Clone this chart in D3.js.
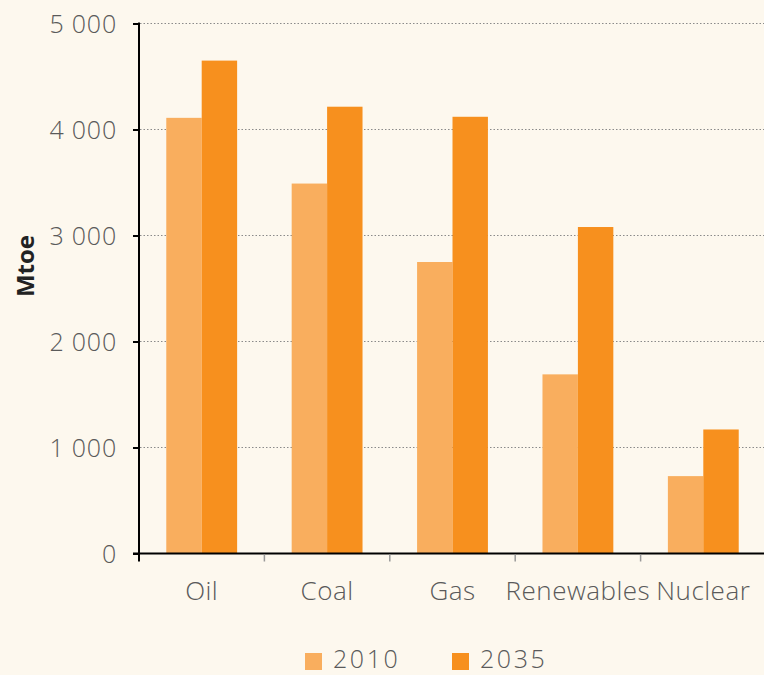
<!DOCTYPE html>
<html>
<head>
<meta charset="utf-8">
<script src="https://cdn.jsdelivr.net/npm/d3@7"></script>
<style>
body { margin:0; background:#fdf8ee; }
svg { display:block; font-family:"Open Sans", "Noto Sans", sans-serif; }
</style>
</head>
<body>
<svg></svg>
<script>
var screen = {width:764, height:675}
var margins = {top:23.5, right:-2, left:139, bottom:121.5}

// data (Mtoe)
var categories = ["Oil", "Coal", "Gas", "Renewables", "Nuclear"]
var years = ["2010", "2035"]
var values2010 = [4110, 3490, 2750, 1690, 730]
var values2035 = [4650, 4215, 4120, 3080, 1170]
var yTicks = [0, 1000, 2000, 3000, 4000, 5000]
var colors = ["#f9ae5e", "#f7901e"]

var svg = d3.select("svg")
    .attr("width", screen.width)
    .attr("height", screen.height)

var bottomY = screen.height - margins.bottom

var x = d3.scaleBand()
    .domain(categories)
    .range([margins.left, screen.width - margins.right])
    .padding(0)

var xInner = d3.scaleBand()
    .domain(years)
    .range([0, x.bandwidth()])
    .paddingInner(0)
    .paddingOuter(0.77)

var y = d3.scaleLinear()
    .domain([0, 5000])
    .range([bottomY, margins.top])

var color = d3.scaleOrdinal().domain(years).range(colors)

var fmt = function(d)
{
    return d3.format(",")(d).replace(",", " ")
}

// gridlines
svg.append("g")
    .selectAll("line")
    .data(yTicks.filter(function(d){ return d > 0 }))
    .enter()
    .append("line")
    .attr("x1", margins.left + 1)
    .attr("x2", screen.width)
    .attr("y1", function(d){ return y(d) })
    .attr("y2", function(d){ return y(d) })
    .style("stroke", "#8a8a8a")
    .style("stroke-width", 1)
    .style("stroke-dasharray", "1.5,2")

// bars
var rows = categories.map(function(c, i){
    return {cat:c, vals:[{year:"2010", v:values2010[i]}, {year:"2035", v:values2035[i]}]}
})

svg.append("g")
    .selectAll("g")
    .data(rows)
    .enter()
    .append("g")
    .attr("transform", function(d){ return "translate(" + x(d.cat) + ",0)" })
    .selectAll("rect")
    .data(function(d){ return d.vals })
    .enter()
    .append("rect")
    .attr("x", function(d){ return xInner(d.year) })
    .attr("width", xInner.bandwidth())
    .attr("y", function(d){ return y(d.v) })
    .attr("height", function(d){ return bottomY - y(d.v) })
    .style("fill", function(d){ return color(d.year) })

// y axis
var yAxis = d3.axisLeft(y).tickValues(yTicks).tickSize(6).tickPadding(16).tickFormat(fmt)
var gy = svg.append("g")
    .attr("transform", "translate(" + margins.left + ",0)")
    .call(yAxis)
    .attr("font-family", null)
    .attr("font-size", null)
gy.select(".domain").remove()
gy.selectAll(".tick line").style("stroke", "#000").style("stroke-width", 2)
gy.selectAll("text")
    .attr("dy", "0.36em")
    .style("font-family", "'Open Sans', sans-serif")
    .style("font-size", "25px")
    .style("letter-spacing", "0.8px")
    .style("font-weight", 300)
    .style("fill", "#5a5a5a")
svg.append("line")
    .attr("x1", margins.left).attr("x2", margins.left)
    .attr("y1", margins.top - 1).attr("y2", bottomY + 8)
    .style("stroke", "#000").style("stroke-width", 2)

// x axis
svg.append("line")
    .attr("x1", margins.left - 6).attr("x2", screen.width)
    .attr("y1", bottomY).attr("y2", bottomY)
    .style("stroke", "#000").style("stroke-width", 2)

svg.append("g")
    .selectAll("line")
    .data(categories.slice(1))
    .enter()
    .append("line")
    .attr("x1", function(d){ return x(d) })
    .attr("x2", function(d){ return x(d) })
    .attr("y1", bottomY + 1)
    .attr("y2", bottomY + 8)
    .style("stroke", "#999")
    .style("stroke-width", 1.5)

svg.append("g")
    .selectAll("text")
    .data(categories)
    .enter()
    .append("text")
    .attr("x", function(d){ return x(d) + x.bandwidth() / 2 })
    .attr("y", 600)
    .attr("text-anchor", "middle")
    .style("font-size", "26px")
    .style("letter-spacing", "0.5px")
    .style("font-weight", 300)
    .style("fill", "#5a5a5a")
    .text(function(d){ return d })

// axis title
svg.append("text")
    .attr("transform", "translate(34,266) rotate(-90)")
    .attr("text-anchor", "middle")
    .style("font-size", "24px")
    .style("font-weight", "bold")
    .style("fill", "#222")
    .text("Mtoe")

// legend
var legendX = [305, 452]
var legend = svg.append("g")
    .selectAll("g")
    .data(years)
    .enter()
    .append("g")
    .attr("transform", function(d, i){ return "translate(" + legendX[i] + ",653)" })
legend.append("rect")
    .attr("width", 17).attr("height", 17)
    .style("fill", function(d){ return color(d) })
legend.append("text")
    .attr("x", 28).attr("y", 15)
    .style("font-size", "25px")
    .style("letter-spacing", "2.6px")
    .style("font-weight", 300)
    .style("fill", "#5a5a5a")
    .text(function(d){ return d })
</script>
</body>
</html>
